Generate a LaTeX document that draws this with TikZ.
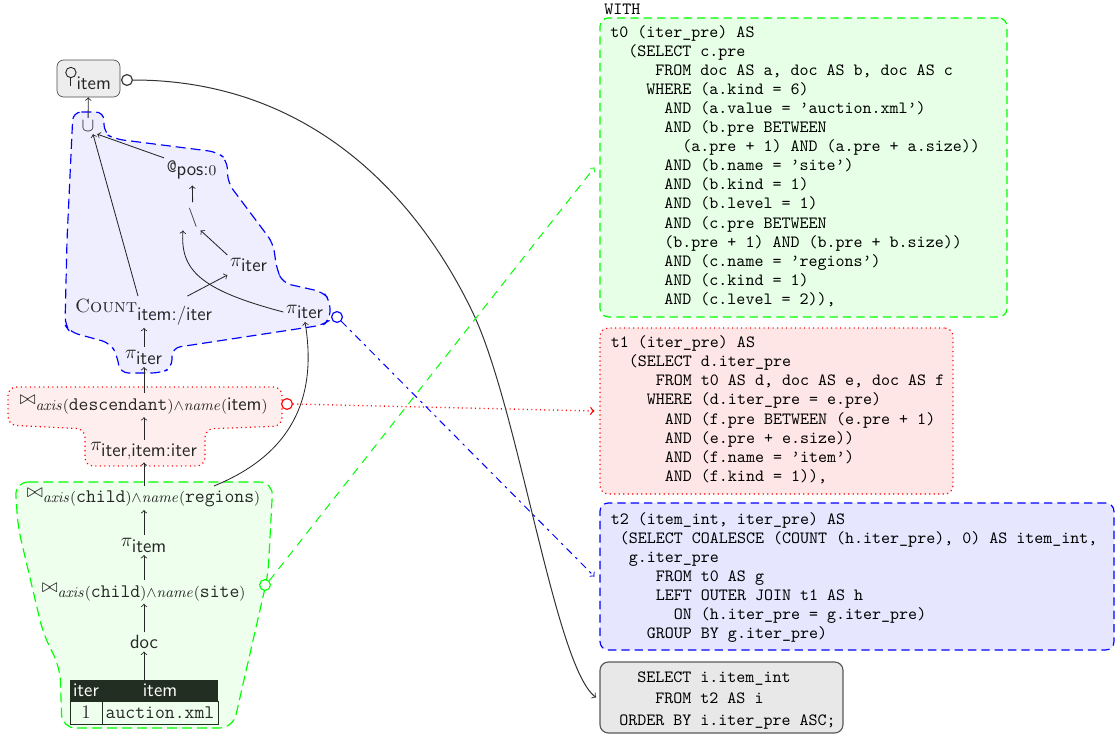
\RequirePackage{fix-cm}
\documentclass[tikz,border=0pt]{standalone}
\usetikzlibrary{fit}
\DeclareMathSizes{11.5}{11.5}{9}{7}
\definecolor{bfill}{RGB}{238,238,255}
\definecolor{rfill}{RGB}{255,238,238}
\definecolor{gfill}{RGB}{238,255,238}
\definecolor{bbox}{RGB}{230,230,255}
\definecolor{rbox}{RGB}{255,230,230}
\definecolor{gbox}{RGB}{230,255,230}
\definecolor{kbox}{RGB}{232,232,232}
\definecolor{thead}{RGB}{34,46,34}
\newcommand\serop{\tikz[x=1pt,y=1pt,baseline=0pt]{\draw[line width=0.55pt] (0,-1)--(0,3.8); \draw[line width=0.55pt] (0,6.9) circle (3.1);}}
\begin{document}
\begin{tikzpicture}[x=0.6pt,y=-0.6pt,
  every node/.style={font=\fontsize{11.5}{13}\selectfont, text=black!85},
  op/.style={inner sep=1.5pt},
  arr/.style={->, line width=0.5pt, draw=black!85},
  conn/.style={->, line width=0.6pt},
  sql/.style={font=\fontsize{10.3}{11.45}\selectfont\ttfamily, anchor=north west, inner sep=0pt, align=left, text=black},
  sqlbox/.style={rounded corners=5pt, inner sep=0pt, line width=0.7pt},
  port/.style={circle, inner sep=0pt, minimum size=6.5pt, line width=0.7pt, fill=white},
  region/.style={rounded corners=5pt, line width=0.7pt}
]
\useasboundingbox (0,0) rectangle (1116,738);

% regions
\filldraw[region, fill=bfill, draw=blue, dash pattern=on 6pt off 3pt]
 (73,112) -- (104,112) -- (104,133) -- (115,139) -- (217,152) -- (227,160) -- (228,183)
 -- (273,243) -- (277,270) -- (283,283) -- (323,292) -- (330,300) -- (330,320) -- (323,325)
 -- (172,348) -- (172,368) -- (160,373) -- (120,373) -- (117,355) -- (110,343) -- (70,332)
 -- (65,325) -- (67,240) -- cycle;
\filldraw[region, fill=rfill, draw=red, dotted]
 (8,387) -- (282,387) -- (282,426) -- (205,429) -- (205,466) -- (85,466) -- (85,429) -- (8,425) -- cycle;
\filldraw[region, rounded corners=8pt, fill=gfill, draw=green, dash pattern=on 6pt off 3pt]
 (15,482) -- (273,482) -- (268,575) -- (233,728) -- (62,728) -- (60,668) -- (43,633) -- (18,527) -- cycle;

% left plan
\node[draw=black!70, fill=black!7, rounded corners=4pt, minimum width=37.8pt, minimum height=22.2pt, inner sep=1pt] (ser) at (88.5,78.5) {\serop$_{\textsf{item}}$};
\node[port, draw=black!80] (sc) at (127,80) {};
\node[op] (un) at (88,126) {$\cup$};
\node[op] (at) at (192,170) {\texttt{@}$_{\textsf{pos:}0}$};
\node[op] (sm) at (193,218) {$\setminus$};
\node[op] (pm) at (249,265) {$\pi_{\textsf{iter}}$};
\node[op] (cnt) at (144,312) {\textsc{Count}$_{\textsf{item:/iter}}$};
\node[op] (pl) at (305,312) {$\pi_{\textsf{iter}}$};
\node[port, draw=blue] (bc) at (337,317) {};
\node[op] (pc) at (144,357) {$\pi_{\textsf{iter}}$};
\node[op] (jd) at (144,405) {$\bowtie_{\mathit{axis}(\texttt{descendant})\wedge\mathit{name}(\textsf{item})}$};
\node[port, draw=red] (rc) at (287,404) {};
\node[op] (pii) at (144,451) {$\pi_{\textsf{iter},\textsf{item:iter}}$};
\node[op] (jr) at (144,498) {$\bowtie_{\mathit{axis}(\texttt{child})\wedge\mathit{name}(\texttt{regions})}$};
\node[op] (pit) at (144,545) {$\pi_{\textsf{item}}$};
\node[op] (js) at (144,592) {$\bowtie_{\mathit{axis}(\texttt{child})\wedge\mathit{name}(\texttt{site})}$};
\node[port, draw=green] (gc) at (265,585) {};
\node[op] (doc) at (144,642) {\textsf{doc}};

% table
\fill[thead] (70,680) rectangle (218,701);
\draw[thead, line width=0.6pt] (70,701) rectangle (218,724) (102,701) -- (102,724);
\node[text=white] (th1) at (86,690.5) {\textsf{iter}};
\node[text=white] (th2) at (160,690.5) {\textsf{item}};
\node (td1) at (86,712.5) {1};
\node (td2) at (160,712.5) {\texttt{auction.xml}};
\node[fit={(70,680) (218,724)}, inner sep=0pt] (tbl) {};

% edges
\draw[arr] (un) -- (ser);
\draw[arr] ([xshift=-3.6pt]cnt.north) -- ([xshift=3pt]un.south);
\draw[arr] (at.north west) -- (un.south east);
\draw[arr, shorten <=2pt, shorten >=2pt] (sm) -- (at);
\draw[arr] (pm.north west) -- (sm.south east);
\draw[arr] ([xshift=26pt]cnt.north) -- (pm.south west);
\draw[arr] (pl.west) .. controls (200,290) and (180,270) .. ([xshift=-6pt]sm.south);
\draw[arr] ([xshift=42pt]jr.north) .. controls (290,455) and (318,400) .. (pl.south);
\draw[arr] (pc) -- (cnt);
\draw[arr] (jd) -- (pc);
\draw[arr] (pii) -- (jd);
\draw[arr] (jr) -- (pii);
\draw[arr] (pit) -- (jr);
\draw[arr] (js) -- (pit);
\draw[arr] (doc) -- (js);
\draw[arr] (tbl) -- (doc);

% SQL boxes
\node[sql] (wth) at (604,4) {WITH};
\node[fit={(600,18) (1007,317)}, sqlbox, draw=green, fill=gbox, dash pattern=on 5pt off 3pt] (t0box) {};
\node[fit={(600,328) (953,494)}, sqlbox, draw=red, fill=rbox, dotted] (t1box) {};
\node[fit={(600,503) (1114,650)}, sqlbox, draw=blue, fill=bbox, dash pattern=on 5pt off 3pt] (t2box) {};
\node[fit={(600,662) (843,733)}, sqlbox, draw=black!65, fill=kbox] (t3box) {};

\node[sql] (t0txt) at (610,25) {t0 (iter\_pre) AS\\
~~(SELECT c.pre\\
~~~~~FROM doc AS a, doc AS b, doc AS c\\
~~~~WHERE (a.kind = 6)\\
~~~~~~AND (a.value = ’auction.xml’)\\
~~~~~~AND (b.pre BETWEEN\\
~~~~~~~~(a.pre + 1) AND (a.pre + a.size))\\
~~~~~~AND (b.name = ’site’)\\
~~~~~~AND (b.kind = 1)\\
~~~~~~AND (b.level = 1)\\
~~~~~~AND (c.pre BETWEEN\\
~~~~~~(b.pre + 1) AND (b.pre + b.size))\\
~~~~~~AND (c.name = ’regions’)\\
~~~~~~AND (c.kind = 1)\\
~~~~~~AND (c.level = 2)),};

\node[sql] (t1txt) at (610.5,335.5) {t1 (iter\_pre) AS\\
~~(SELECT d.iter\_pre\\
~~~~~FROM t0 AS d, doc AS e, doc AS f\\
~~~~WHERE (d.iter\_pre = e.pre)\\
~~~~~~AND (f.pre BETWEEN (e.pre + 1)\\
~~~~~~AND (e.pre + e.size))\\
~~~~~~AND (f.name = ’item’)\\
~~~~~~AND (f.kind = 1)),};

\node[sql] (t2txt) at (610.5,512) {t2 (item\_int, iter\_pre) AS\\
~(SELECT COALESCE (COUNT (h.iter\_pre), 0) AS item\_int,\\
~~g.iter\_pre\\
~~~~~FROM t0 AS g\\
~~~~~LEFT OUTER JOIN t1 AS h\\
~~~~~~~ON (h.iter\_pre = g.iter\_pre)\\
~~~~GROUP BY g.iter\_pre)};

\node[sql, font=\fontsize{10.3}{13}\selectfont\ttfamily] (t3txt) at (619,671) {~~SELECT i.item\_int\\
~~~~FROM t2 AS i\\
ORDER BY i.iter\_pre ASC;};

% connectors to SQL
\draw[conn, draw=black!80] (sc.east) .. controls (313,80) and (419,200) .. (473,313)
  .. controls (519,410) and (555,667) .. ([xshift=-2pt]t3box.west);
\draw[conn, red, dotted, line width=0.8pt] (rc.east) -- ([xshift=-3pt]t1box.west);
\draw[conn, blue, dash pattern=on 4.5pt off 3pt on 1.5pt off 3pt] (bc.south east) -- ([xshift=-3pt]t2box.west);
\draw[conn, green, dash pattern=on 5pt off 4pt] (gc.north east) -- ([xshift=-3pt]t0box.west);
\end{tikzpicture}
\end{document}
